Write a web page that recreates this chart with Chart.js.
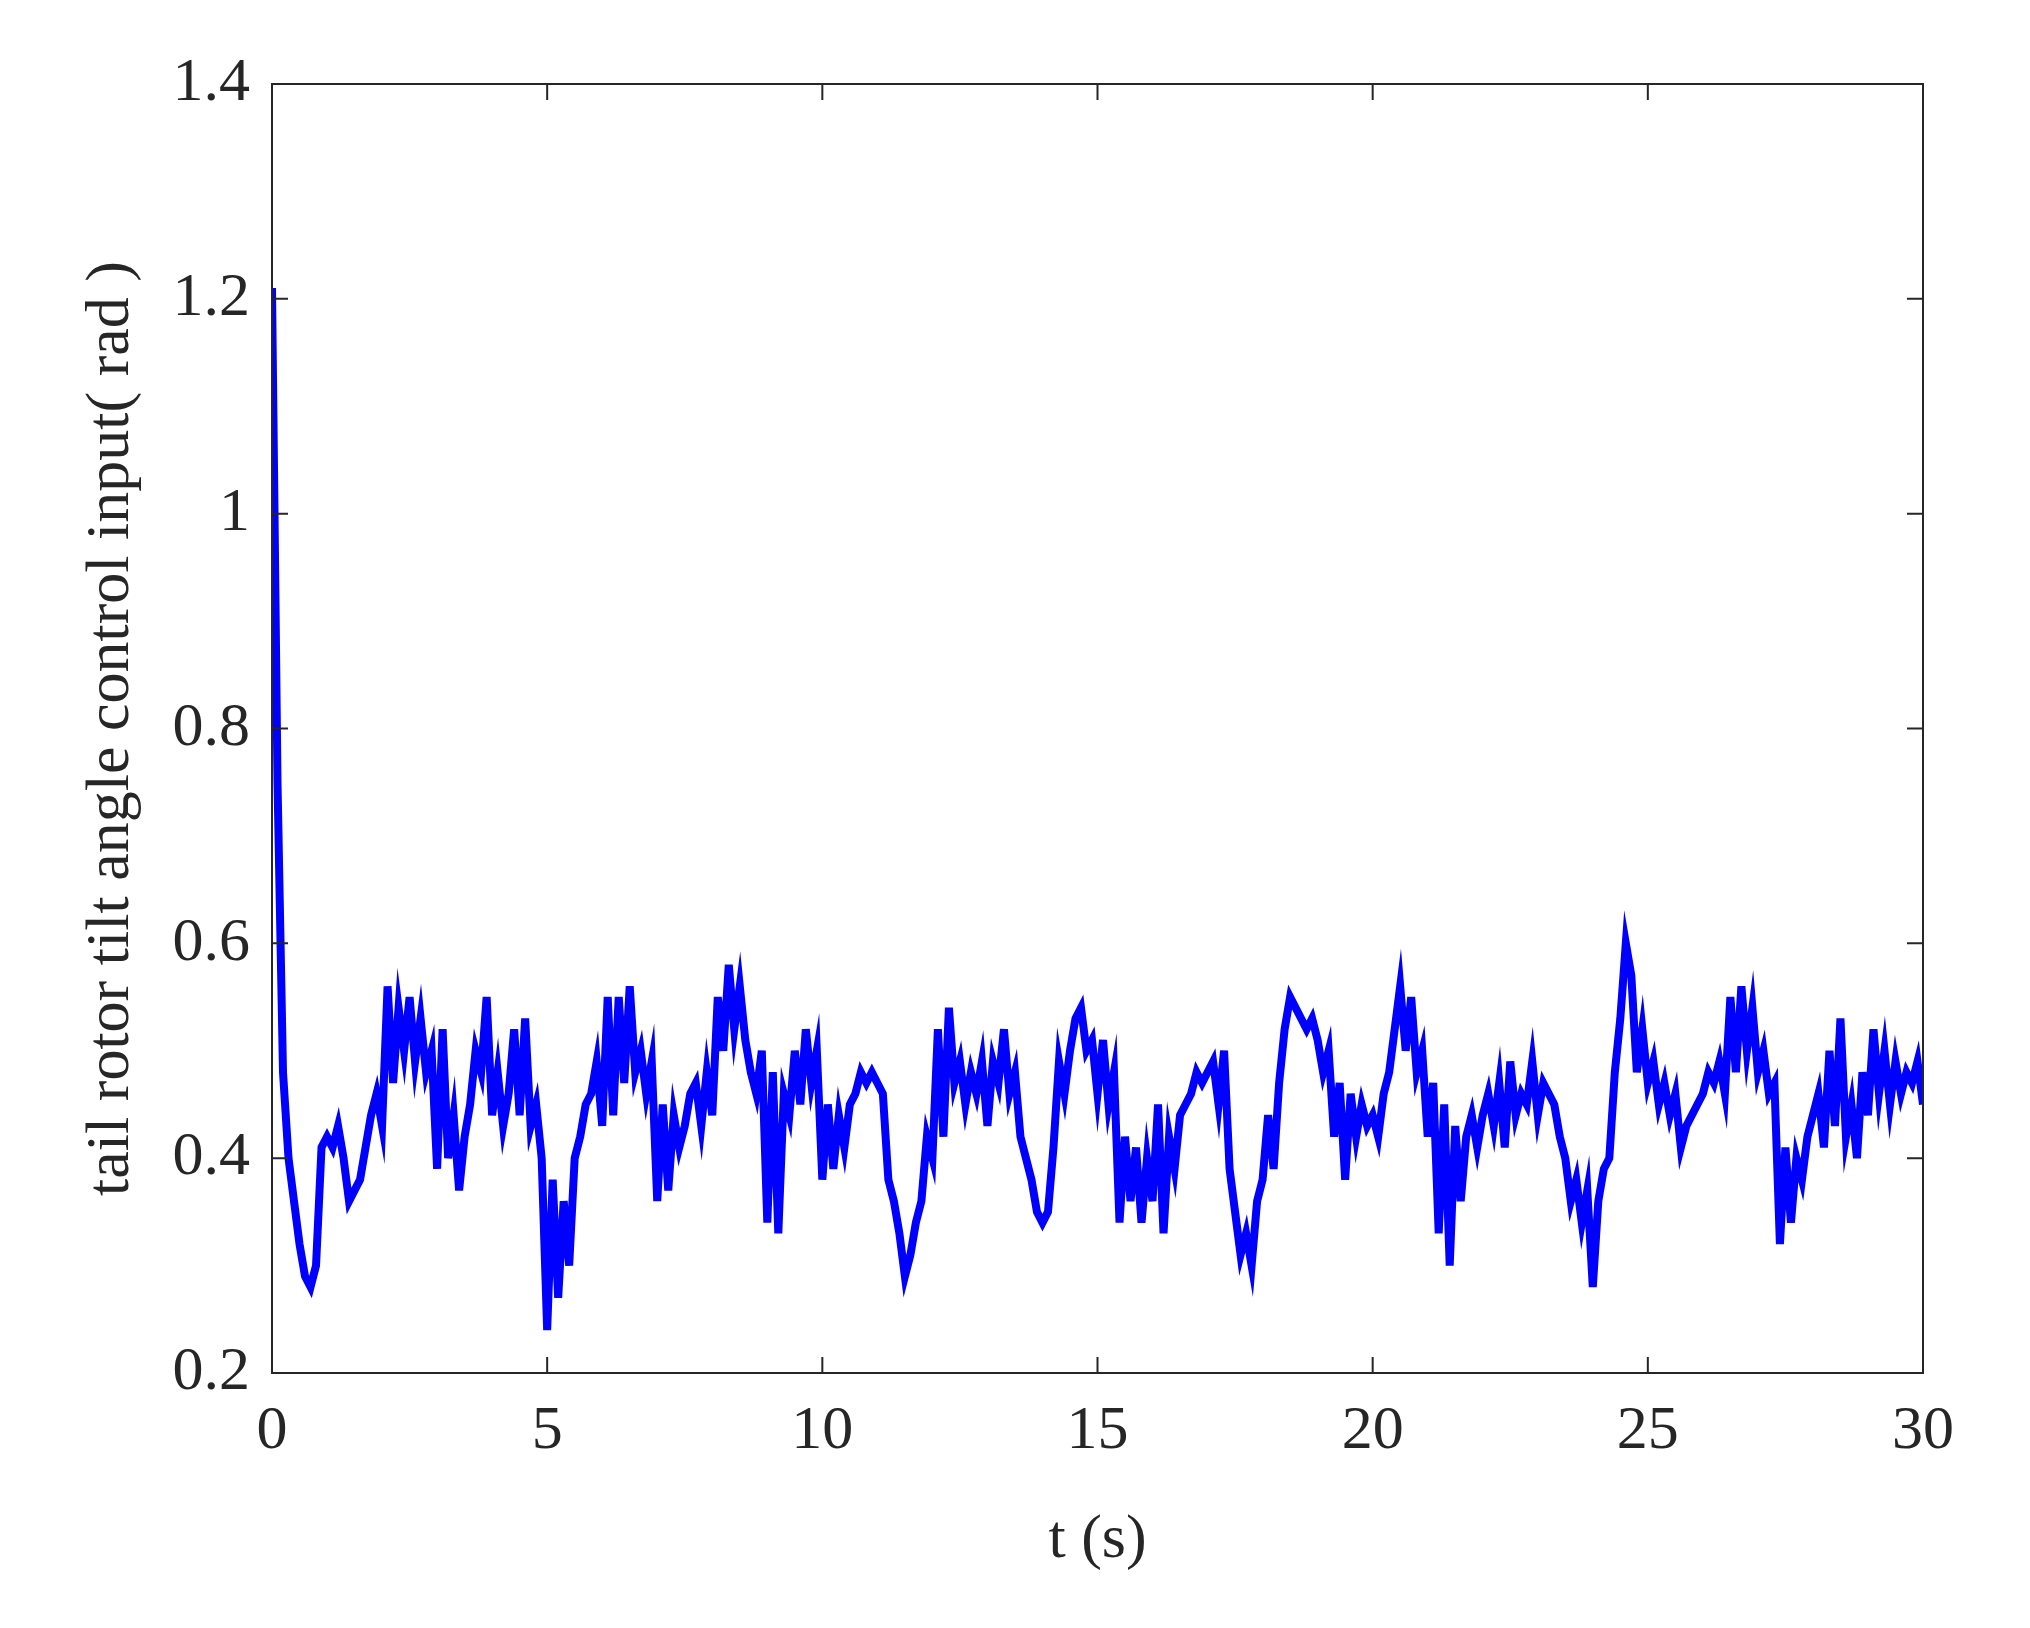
<!DOCTYPE html>
<html>
<head>
<meta charset="utf-8">
<script src="https://cdn.jsdelivr.net/npm/chart.js@4"></script>
<style>
  html, body { margin: 0; padding: 0; background: #fff; }
  #wrap { width: 2030px; height: 1628px; }
</style>
</head>
<body>
<div id="wrap"><canvas id="tiltChart"></canvas></div>
<script>
// values, one sample every 0.1 s
const timeStep = 0.1;
const tiltInput = [
  1.21, 0.75, 0.48, 0.40, 0.36, 0.32, 0.29, 0.28, 0.30, 0.41,
  0.42, 0.41, 0.43, 0.40, 0.36, 0.37, 0.38, 0.41, 0.44, 0.46,
  0.43, 0.56, 0.47, 0.54, 0.50, 0.55, 0.49, 0.53, 0.48, 0.50,
  0.39, 0.52, 0.40, 0.44, 0.37, 0.42, 0.45, 0.50, 0.48, 0.55,
  0.44, 0.48, 0.43, 0.46, 0.52, 0.44, 0.53, 0.43, 0.45, 0.40,
  0.24, 0.38, 0.27, 0.36, 0.30, 0.40, 0.42, 0.45, 0.46, 0.49,
  0.43, 0.55, 0.44, 0.55, 0.47, 0.56, 0.48, 0.50, 0.46, 0.49,
  0.36, 0.45, 0.37, 0.44, 0.41, 0.43, 0.46, 0.47, 0.43, 0.48,
  0.44, 0.55, 0.50, 0.58, 0.52, 0.56, 0.51, 0.48, 0.46, 0.50,
  0.34, 0.48, 0.33, 0.46, 0.44, 0.50, 0.45, 0.52, 0.47, 0.50,
  0.38, 0.45, 0.39, 0.44, 0.41, 0.45, 0.46, 0.48, 0.47, 0.48,
  0.47, 0.46, 0.38, 0.36, 0.33, 0.29, 0.31, 0.34, 0.36, 0.42,
  0.40, 0.52, 0.42, 0.54, 0.47, 0.49, 0.45, 0.48, 0.46, 0.49,
  0.43, 0.49, 0.47, 0.52, 0.46, 0.48, 0.42, 0.40, 0.38, 0.35,
  0.34, 0.35, 0.41, 0.49, 0.46, 0.50, 0.53, 0.54, 0.50, 0.51,
  0.46, 0.51, 0.45, 0.48, 0.34, 0.42, 0.36, 0.41, 0.34, 0.40,
  0.36, 0.45, 0.33, 0.42, 0.39, 0.44, 0.45, 0.46, 0.48, 0.47,
  0.48, 0.49, 0.45, 0.50, 0.39, 0.35, 0.31, 0.33, 0.30, 0.36,
  0.38, 0.44, 0.39, 0.47, 0.52, 0.55, 0.54, 0.53, 0.52, 0.53,
  0.51, 0.48, 0.50, 0.42, 0.47, 0.38, 0.46, 0.42, 0.45, 0.43,
  0.44, 0.42, 0.46, 0.48, 0.52, 0.56, 0.50, 0.55, 0.48, 0.50,
  0.42, 0.47, 0.33, 0.45, 0.30, 0.43, 0.36, 0.42, 0.44, 0.41,
  0.44, 0.46, 0.43, 0.47, 0.41, 0.49, 0.44, 0.46, 0.45, 0.49,
  0.44, 0.47, 0.46, 0.45, 0.42, 0.40, 0.36, 0.38, 0.34, 0.37,
  0.28, 0.36, 0.39, 0.40, 0.48, 0.53, 0.60, 0.57, 0.48, 0.52,
  0.47, 0.49, 0.45, 0.47, 0.44, 0.46, 0.41, 0.43, 0.44, 0.45,
  0.46, 0.48, 0.47, 0.49, 0.46, 0.55, 0.48, 0.56, 0.50, 0.54,
  0.48, 0.50, 0.46, 0.47, 0.32, 0.41, 0.34, 0.40, 0.38, 0.42,
  0.44, 0.46, 0.41, 0.50, 0.43, 0.53, 0.42, 0.45, 0.40, 0.48,
  0.44, 0.52, 0.46, 0.50, 0.45, 0.49, 0.46, 0.48, 0.47, 0.49,
  0.45
];
const xTicks = [0, 5, 10, 15, 20, 25, 30];
const yTicks = [0.2, 0.4, 0.6, 0.8, 1.0, 1.2, 1.4];

const points = tiltInput.map((v, i) => ({ x: +(i * timeStep).toFixed(2), y: v }));
const font = { family: 'Liberation Serif', size: 62 };

// matlab style box with inward ticks on all four sides
const boxTicks = {
  id: 'boxTicks',
  afterDraw(chart) {
    const { ctx, chartArea: a, scales } = chart;
    const len = 16;
    ctx.save();
    ctx.strokeStyle = '#262626';
    ctx.lineWidth = 2;
    ctx.strokeRect(a.left, a.top, a.right - a.left, a.bottom - a.top);
    ctx.beginPath();
    xTicks.forEach(t => {
      const px = scales.x.getPixelForValue(t);
      ctx.moveTo(px, a.bottom); ctx.lineTo(px, a.bottom - len);
      ctx.moveTo(px, a.top); ctx.lineTo(px, a.top + len);
    });
    yTicks.forEach(t => {
      const py = scales.y.getPixelForValue(t);
      ctx.moveTo(a.left, py); ctx.lineTo(a.left + len, py);
      ctx.moveTo(a.right, py); ctx.lineTo(a.right - len, py);
    });
    ctx.stroke();
    ctx.restore();
  }
};

const ctx = document.getElementById('tiltChart').getContext('2d');
new Chart(ctx, {
  type: 'line',
  data: {
    datasets: [{
      data: points,
      borderColor: '#0000ff',
      borderWidth: 8,
      pointRadius: 0,
      tension: 0,
      fill: false
    }]
  },
  options: {
    responsive: true,
    maintainAspectRatio: false,
    animation: false,
    layout: { padding: { top: 84, right: 107, left: 75, bottom: 0 } },
    plugins: { legend: { display: false }, tooltip: { enabled: false } },
    scales: {
      x: {
        type: 'linear', min: 0, max: 30,
        afterFit(s) { s.height = 255; },
        afterBuildTicks(s) { s.ticks = xTicks.map(v => ({ value: v })); },
        grid: { display: false },
        border: { display: false },
        ticks: { color: '#262626', font, padding: 14, callback: v => String(v) },
        title: { display: true, text: 't (s)', color: '#262626', font, padding: { top: 0, bottom: 50 } }
      },
      y: {
        min: 0.2, max: 1.4,
        afterFit(s) { s.width = 197; },
        afterBuildTicks(s) { s.ticks = yTicks.map(v => ({ value: v })); },
        grid: { display: false },
        border: { display: false },
        ticks: { color: '#262626', font, padding: 14, callback: v => String(+v.toFixed(1)) },
        title: { display: true, text: 'tail rotor tilt angle control input( rad )', color: '#262626', font, padding: { top: 0, bottom: 0 } }
      }
    }
  },
  plugins: [boxTicks]
});
</script>
</body>
</html>
